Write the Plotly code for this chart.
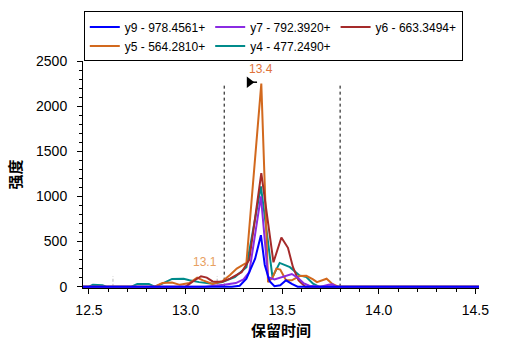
import plotly.graph_objects as go

# ---------------- data ----------------
series_names = ["y9 - 978.4561+", "y7 - 792.3920+", "y6 - 663.3494+", "y5 - 564.2810+", "y4 - 477.2490+"]
series_colors = ["#0000FF", "#8A2BE2", "#A52A2A", "#D2691E", "#008B8B"]

y9_t = [12.45, 13.24, 13.28, 13.315, 13.36, 13.39, 13.41, 13.435, 13.46, 13.49, 13.52, 13.55, 13.58, 14.55]
y9_v = [0, 0, 10, 88, 310, 570, 240, 60, 5, 15, 70, 30, 0, 0]

y7_t = [12.45, 13.10, 13.20, 13.26, 13.30, 13.33, 13.39, 13.427, 13.46, 13.49, 13.52, 13.55, 13.58, 13.61, 13.64, 13.70, 13.74, 13.76, 13.78, 14.55]
y7_v = [0, 0, 20, 40, 80, 160, 1000, 106, 80, 100, 124, 140, 100, 40, 10, 0, 20, 25, 0, 0]

y6_t = [12.45, 13.00, 13.04, 13.08, 13.11, 13.14, 13.19, 13.23, 13.29, 13.33, 13.392, 13.455, 13.496, 13.53, 13.556, 13.585, 13.62, 14.55]
y6_v = [0, 0, 60, 115, 100, 58, 55, 88, 160, 300, 1258, 270, 545, 430, 216, 70, 0, 0]

y5_t = [12.45, 12.84, 12.88, 12.93, 12.97, 13.02, 13.06, 13.09, 13.14, 13.19, 13.23, 13.265, 13.315, 13.392, 13.427, 13.45, 13.47, 13.49, 13.52, 13.55, 13.59, 13.625, 13.66, 13.68, 13.73, 13.76, 13.79, 14.55]
y5_v = [0, 0, 40, 45, 20, 40, 100, 70, 30, 60, 130, 200, 265, 2250, 50, 100, 200, 190, 70, 70, 117, 120, 80, 50, 88, 30, 0, 0]

y4_t = [12.45, 12.50, 12.52, 12.57, 12.59, 12.72, 12.75, 12.81, 12.84, 12.88, 12.93, 12.99, 13.02, 13.07, 13.14, 13.19, 13.255, 13.315, 13.39, 13.45, 13.487, 13.54, 13.59, 13.625, 13.66, 13.69, 14.55]
y4_v = [0, 0, 20, 15, 0, 0, 30, 30, 0, 33, 85, 88, 70, 50, 33, 50, 106, 216, 1110, 106, 263, 216, 124, 106, 33, 0, 0]

boundary_t = [13.2, 13.8]          # black dashed integration bounds
boundary_top = 2245
gray_mark_t = [12.624, 13.164]     # light grey short marks
gray_mark_top = 115
arrow_t = [13.33]
arrow_v = [2265]
label_text = ["13.4", "13.1"]
label_t = [13.392, 13.10]
label_v = [2412, 274]
label_colors = ["#E0733A", "#E8A060"]

x_tickvals = [12.5, 13.0, 13.5, 14.0, 14.5]
y_tickvals = [0, 500, 1000, 1500, 2000, 2500]

# ---------------- figure ----------------
FONT = "Arial, 'Liberation Sans', sans-serif"
CJK = "'Noto Sans CJK SC', sans-serif"

fig = go.Figure()
all_t = [y9_t, y7_t, y6_t, y5_t, y4_t]
all_v = [y9_v, y7_v, y6_v, y5_v, y4_v]
# draw in reverse so blue is on top; legend order kept via legendrank
for i in reversed(range(5)):
    fig.add_trace(go.Scatter(
        x=all_t[i], y=all_v[i], mode="lines", name=series_names[i],
        line=dict(color=series_colors[i], width=2), legendrank=i + 1,
    ))

fig.add_trace(go.Scatter(
    x=arrow_t, y=arrow_v, mode="markers", showlegend=False,
    marker=dict(symbol="triangle-right", size=10, color="black"),
))

for t in boundary_t:
    fig.add_shape(type="line", x0=t, x1=t, y0=0, y1=boundary_top,
                  line=dict(color="black", width=1, dash="3px,3px"), layer="below")
for t in gray_mark_t:
    fig.add_shape(type="line", x0=t, x1=t, y0=0, y1=gray_mark_top,
                  line=dict(color="#D0D0D0", width=1.5, dash="3px,2px"), layer="below")
fig.add_shape(type="line", x0=arrow_t[0], x1=arrow_t[0] + 0.04, y0=arrow_v[0], y1=arrow_v[0],
              line=dict(color="black", width=1.5))

for txt, t, v, c in zip(label_text, label_t, label_v, label_colors):
    fig.add_annotation(x=t, y=v, text=txt, showarrow=False,
                       font=dict(family=FONT, size=12, color=c))

fig.update_layout(
    width=507, height=351,
    margin=dict(l=83, r=28, t=60, b=63),
    paper_bgcolor="white", plot_bgcolor="white",
    font=dict(family=FONT, color="black"),
    showlegend=True,
    legend=dict(
        orientation="h", x=0.002, xanchor="left", y=1.1035, yanchor="middle",
        bordercolor="black", borderwidth=1, bgcolor="white",
        font=dict(family=FONT, size=12), traceorder="normal",
    ),
)
fig.update_xaxes(
    range=[12.469, 14.519], tickvals=x_tickvals, tickformat=".1f",
    showgrid=False, zeroline=False, showline=True, linecolor="black", linewidth=1,
    ticks="outside", ticklen=5, tickcolor="black", ticklabelstandoff=4,
    tickfont=dict(family=FONT, size=14),
    minor=dict(dtick=0.1, ticks="outside", ticklen=3, tickcolor="black"),
    title=dict(text="<b>保留时间</b>", font=dict(family=CJK, size=15), standoff=8),
)
fig.update_yaxes(
    range=[-15, 2500], tickvals=y_tickvals,
    showgrid=False, zeroline=False, showline=True, linecolor="black", linewidth=1,
    ticks="outside", ticklen=5, tickcolor="black", ticklabelstandoff=7,
    tickfont=dict(family=FONT, size=14),
    minor=dict(dtick=100, ticks="outside", ticklen=3, tickcolor="black", tick0=0),
    title=dict(text="<b>强度</b>", font=dict(family=CJK, size=15), standoff=10),
)

fig.write_html("out.html")
